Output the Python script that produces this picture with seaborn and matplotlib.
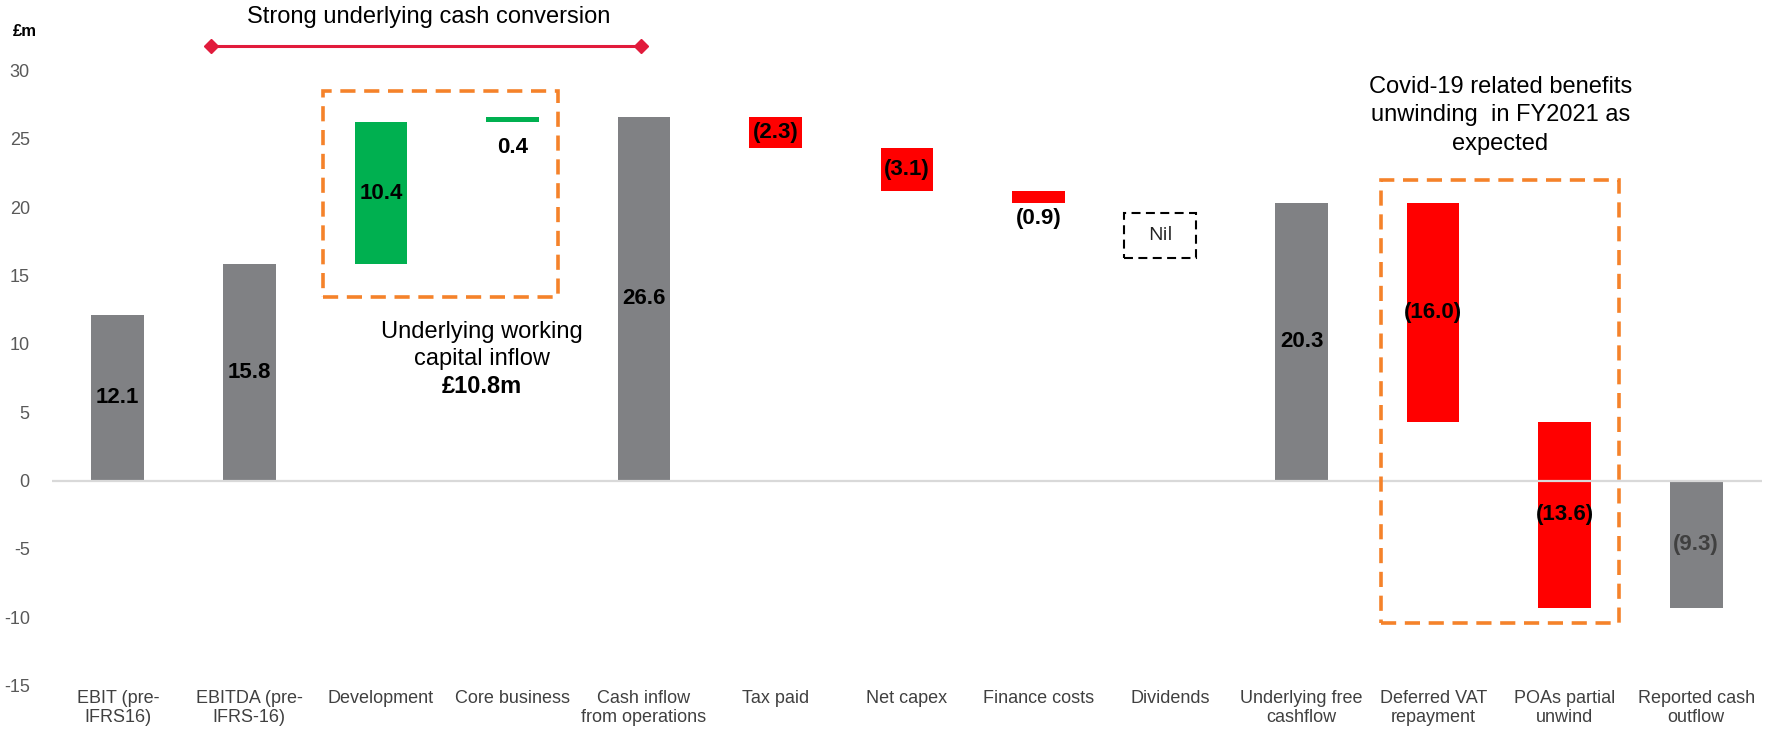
import matplotlib
matplotlib.use("Agg")
import matplotlib.pyplot as plt
import seaborn as sns
import numpy as np
import pandas as pd
from matplotlib.patches import Rectangle

# ---- data ----
categories = ["EBIT (pre-\nIFRS16)", "EBITDA (pre-\nIFRS-16)", "Development", "Core business",
              "Cash inflow\nfrom operations", "Tax paid", "Net capex", "Finance costs", "Dividends",
              "Underlying free\ncashflow", "Deferred VAT\nrepayment", "POAs partial\nunwind",
              "Reported cash\noutflow"]
values = [12.1, 15.8, 10.4, 0.4, 26.6, -2.3, -3.1, -0.9, 0.0, 20.3, -16.0, -13.6, -9.3]
kinds = ["total", "total", "delta", "delta", "total", "delta", "delta", "delta", "nil",
         "total", "delta", "delta", "total"]
y_ticks = [-15, -10, -5, 0, 5, 10, 15, 20, 25, 30]

GRAY = "#808184"
GREEN = "#00B050"
RED = "#FF0000"
ORANGE = "#F5822A"
CRIMSON = "#E11B3C"

# waterfall geometry from values
bottoms, heights = [], []
running = 0.0
for v, k in zip(values, kinds):
    if k == "total":
        bottoms.append(0.0); heights.append(v); running = v
    else:
        bottoms.append(running); heights.append(v); running += v

colors = []
for v, k in zip(values, kinds):
    if k == "total":
        colors.append(GRAY)
    elif v >= 0:
        colors.append(GREEN)
    else:
        colors.append(RED)

df = pd.DataFrame({"cat": categories, "h": heights})

sns.set_theme(style="white")
plt.rcParams["font.family"] = ["Liberation Sans", "DejaVu Sans"]

fig = plt.figure(figsize=(17.77, 7.30), dpi=100)
ax = fig.add_axes([52 / 1777, 1 - 685.7 / 730, (1762 - 52) / 1777, (685.7 - 70.3) / 730])

sns.barplot(data=df, x="cat", y="h", color=GRAY, width=0.4, ax=ax, errorbar=None,
            saturation=1, zorder=2)
for p, b, h, c in zip(ax.patches, bottoms, heights, colors):
    p.set_y(b)
    p.set_height(h)
    p.set_facecolor(c)
    p.set_edgecolor("none")

ax.axhline(0, color="#D9D9D9", lw=1.6, zorder=3)
ax.set_xlim(-0.5, len(categories) - 0.5)
ax.set_ylim(-15, 30)
ax.set_yticks(y_ticks)
ax.set_yticklabels([str(t) for t in y_ticks])
ax.set_xlabel("")
ax.set_ylabel("")
for s in ax.spines.values():
    s.set_visible(False)
ax.tick_params(axis="y", length=0, labelsize=13, labelcolor="#595959", pad=16)
ax.tick_params(axis="x", length=0, labelsize=13, labelcolor="#404040", pad=3)
ax.grid(False)

# value labels
for i, (v, k, b, h) in enumerate(zip(values, kinds, bottoms, heights)):
    if k == "nil":
        continue
    txt = f"{abs(v):.1f}"
    if v < 0:
        txt = f"({txt})"
    col = "#404040" if (k == "total" and v < 0) else "black"
    if abs(v) < 1:
        low = min(b, b + h)
        off = -18 if v > 0 else -11
        ax.annotate(txt, (i, low), xytext=(0, off), textcoords="offset points",
                    ha="center", va="center", fontsize=16, fontweight="bold", color=col, zorder=5)
    else:
        ax.text(i, b + h / 2, txt, ha="center", va="center", fontsize=16,
                fontweight="bold", color=col, zorder=5)

# Nil box
ax.add_patch(Rectangle((7.65, 16.3), 0.55, 3.3, fill=False, ec="black", lw=1.5,
                       ls=(0, (4.3, 2.6)), zorder=4))
ax.text(7.925, 17.95, "Nil", ha="center", va="center", fontsize=14, color="#222222",
        family=["Open Sans", "Liberation Sans"])

# working capital box
ax.add_patch(Rectangle((1.56, 13.4), 1.79, 15.1, fill=False, ec=ORANGE, lw=2.6,
                       ls=(0, (4.2, 2.4)), zorder=4, clip_on=False))
ax.text(2.77, 10.9, "Underlying working", ha="center", va="center", fontsize=17, color="black")
ax.text(2.77, 8.9, "capital inflow", ha="center", va="center", fontsize=17, color="black")
ax.text(2.77, 6.9, "£10.8m", ha="center", va="center", fontsize=17, fontweight="bold", color="black")

# Covid box
ax.add_patch(Rectangle((9.60, -10.4), 1.81, 32.4, fill=False, ec=ORANGE, lw=2.6,
                       ls=(0, (4.2, 2.4)), zorder=4, clip_on=False))
for yy, line in zip([28.8, 26.7, 24.6], ["Covid-19 related benefits", "unwinding  in FY2021 as", "expected"]):
    ax.text(10.51, yy, line, ha="center", va="center", fontsize=17, color="black", clip_on=False)

# strong cash conversion bracket
ax.plot([0.71, 3.98], [31.8, 31.8], color=CRIMSON, lw=2.2, marker="D", markersize=7,
        clip_on=False, zorder=5)
ax.text(2.36, 33.9, "Strong underlying cash conversion", ha="center", va="center",
        fontsize=17, color="black", clip_on=False)

fig.text(25 / 1777, 1 - 31 / 730, "£m", ha="center", va="center", fontsize=12,
         fontweight="bold", color="black")

fig.savefig("out.png", dpi=100)
